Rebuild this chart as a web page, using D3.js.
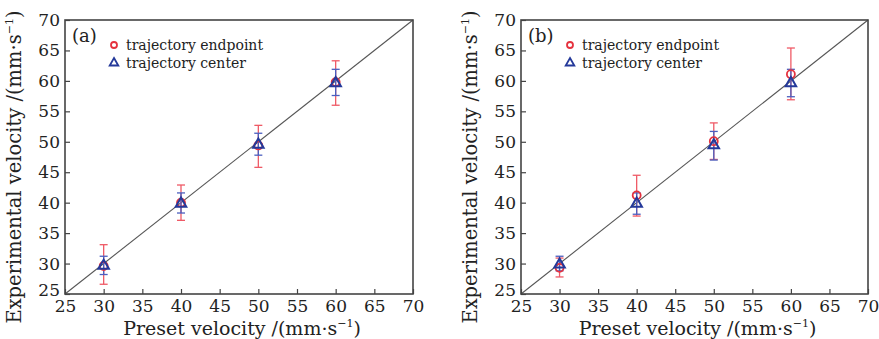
<!DOCTYPE html>
<html><head><meta charset="utf-8">
<script src="https://cdn.jsdelivr.net/npm/d3@7"></script>
<style>body{margin:0;background:#fff}svg{display:block}text{font-family:"DejaVu Serif","Liberation Serif",serif;fill:#222}</style>
</head><body>
<svg id="c" width="879" height="339"></svg>
<script>
const presets = [30, 40, 50, 60];
const xTicks = [25, 30, 35, 40, 45, 50, 55, 60, 65, 70];
const yTicks = [25, 30, 35, 40, 45, 50, 55, 60, 65, 70];
// panel (a)
const aEndMean = [29.6, 40.0, 49.4, 59.8];
const aEndLow  = [26.6, 37.1, 45.8, 56.0];
const aEndHigh = [33.1, 42.9, 52.7, 63.3];
const aCenMean = [29.8, 40.0, 49.7, 59.8];
const aCenLow  = [28.2, 38.3, 47.8, 57.6];
const aCenHigh = [31.2, 41.6, 51.4, 61.9];
// panel (b)
const bEndMean = [29.3, 41.2, 50.1, 61.1];
const bEndLow  = [27.8, 37.8, 47.1, 56.9];
const bEndHigh = [30.9, 44.5, 53.1, 65.4];
const bCenMean = [30.0, 40.0, 49.6, 59.8];
const bCenLow  = [28.8, 38.1, 47.0, 57.4];
const bCenHigh = [31.2, 41.6, 51.7, 61.9];

const panels = [
  {label:"(a)", x0:65, x1:413, end:[aEndMean,aEndLow,aEndHigh], cen:[aCenMean,aCenLow,aCenHigh]},
  {label:"(b)", x0:521, x1:868, end:[bEndMean,bEndLow,bEndHigh], cen:[bCenMean,bCenLow,bCenHigh]}
];
const y0 = 294, y1 = 20;
const RED = "#e5323e", REDE = "#ef5a66", BLUE = "#24399a", BLUEE = "#4b5fbf";
const FONT = '"DejaVu Serif","Liberation Serif",serif';
const svg = d3.select("#c");

panels.forEach(p => {
  const x = d3.scaleLinear().domain([25,70]).range([p.x0,p.x1]);
  const y = d3.scaleLinear().domain([25,70]).range([y0,y1]);
  const g = svg.append("g");
  g.append("line").attr("x1",x(25)).attr("y1",y(25)).attr("x2",x(70)).attr("y2",y(70))
    .attr("stroke","#555").attr("stroke-width",1.1);
  const xa = g.append("g").attr("transform",`translate(0,${y0})`)
    .call(d3.axisBottom(x).tickValues(xTicks).tickSize(-5).tickPadding(9).tickFormat(d3.format("d")));
  const ya = g.append("g").attr("transform",`translate(${p.x0},0)`)
    .call(d3.axisLeft(y).tickValues(yTicks).tickSize(-5).tickPadding(5).tickFormat(d3.format("d")));
  [xa,ya].forEach(a=>{
    a.select(".domain").remove();
    a.selectAll("line").attr("stroke","#444").attr("stroke-width",1.2);
    a.selectAll("text").attr("font-size",17).attr("fill","#222").style("font-family",FONT);
  });
  xa.selectAll("text").attr("dy","0.55em");
  ya.selectAll("text").filter(d=>d===25).attr("dy","0.1em");
  g.append("rect").attr("x",p.x0).attr("y",y1).attr("width",p.x1-p.x0).attr("height",y0-y1)
    .attr("fill","none").attr("stroke","#444").attr("stroke-width",1.6);
  function errs(arr, col, cap){
    const [m,lo,hi] = arr;
    presets.forEach((v,i)=>{
      const cx = x(v);
      g.append("line").attr("x1",cx).attr("x2",cx).attr("y1",y(lo[i])).attr("y2",y(hi[i])).attr("stroke",col).attr("stroke-width",1.3);
      [lo[i],hi[i]].forEach(e=>g.append("line").attr("x1",cx-cap).attr("x2",cx+cap).attr("y1",y(e)).attr("y2",y(e)).attr("stroke",col).attr("stroke-width",1.3));
    });
  }
  errs(p.end, REDE, 4);
  errs(p.cen, BLUEE, 4);
  presets.forEach((v,i)=>{
    g.append("circle").attr("cx",x(v)).attr("cy",y(p.end[0][i])).attr("r",4).attr("fill","none").attr("stroke",RED).attr("stroke-width",1.8);
  });
  const tri = d3.symbol().type(d3.symbolTriangle).size(48);
  presets.forEach((v,i)=>{
    g.append("path").attr("d",tri()).attr("transform",`translate(${x(v)},${y(p.cen[0][i])+1})`)
      .attr("fill","none").attr("stroke",BLUE).attr("stroke-width",2);
  });
  g.append("text").attr("x",p.x0+7).attr("y",y1+22).attr("font-size",18).text(p.label);
  const lx = p.x0 + 49, ly = 45;
  g.append("circle").attr("cx",lx).attr("cy",ly).attr("r",3).attr("fill","none").attr("stroke",RED).attr("stroke-width",1.8);
  g.append("path").attr("d",d3.symbol().type(d3.symbolTriangle).size(32)()).attr("transform",`translate(${lx},${ly+18})`)
    .attr("fill","none").attr("stroke",BLUE).attr("stroke-width",1.8);
  g.append("text").attr("x",lx+12).attr("y",ly+5).attr("font-size",14).text("trajectory endpoint");
  g.append("text").attr("x",lx+12).attr("y",ly+23).attr("font-size",14).text("trajectory center");
  const xt = g.append("text").attr("x",(p.x0+p.x1)/2 + 3).attr("y",335).attr("text-anchor","middle").attr("font-size",19);
  xt.append("tspan").text("Preset velocity /(mm\u00B7s");
  xt.append("tspan").attr("font-size",11).attr("dy",-8).text("\u22121");
  xt.append("tspan").attr("dy",8).text(")");
  const yt = g.append("text").attr("transform",`translate(${p.x0-44},${(y0+y1)/2 + 10}) rotate(-90)`).attr("text-anchor","middle").attr("font-size",19.5);
  yt.append("tspan").text("Experimental velocity /(mm\u00B7s");
  yt.append("tspan").attr("font-size",11).attr("dy",-8).text("\u22121");
  yt.append("tspan").attr("dy",8).text(")");
});
</script>
</body></html>
